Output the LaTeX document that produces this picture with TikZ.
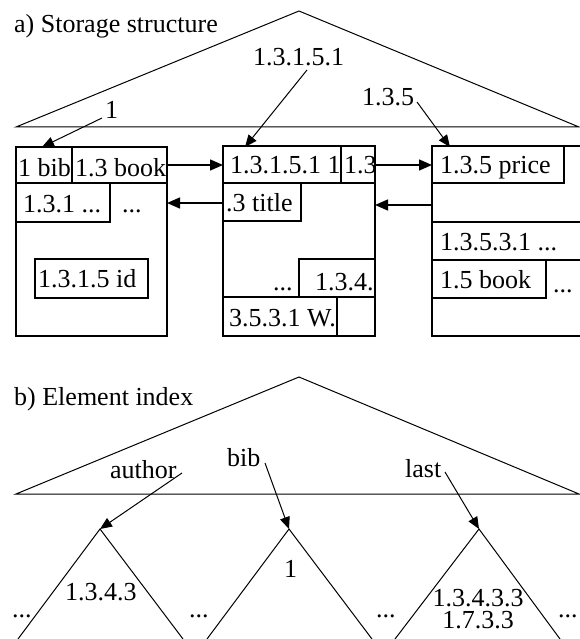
\documentclass[tikz,border=0pt]{standalone}
\usepackage{fontspec}
\setmainfont{Liberation Serif}
\usetikzlibrary{arrows.meta}
\begin{document}
\begin{tikzpicture}[x=1pt,y=-1pt,
  txt/.style={anchor=base west,inner sep=0pt,font=\fontsize{26}{28}\selectfont},
  tline/.style={line width=1pt},
  boxline/.style={line width=2pt},
  linkarr/.style={line width=1.4pt,-{Triangle[length=13pt,width=11pt]}},
  labarr/.style={line width=1pt,-{Triangle[length=12pt,width=10pt]}},
]
\useasboundingbox (0,0) rectangle (579,639);

% ---------- a) storage structure ----------
\node[txt] (ta) at (14,33) {a) Storage structure};
\coordinate (aL) at (16,127);
\coordinate (aT) at (299,11);
\coordinate (aR) at (579,127);
\draw[tline] (aL) -- (aT) -- (aR) -- cycle;

% block 1
\draw[boxline] (16,147) rectangle (167,336);
\draw[boxline] (16,183) -- (167,183);
\draw[boxline] (72,147) -- (72,183);
\draw[boxline] (16,183) rectangle (110,222);
\draw[boxline] (35,259) rectangle (148,298);
\node[txt] (b1a) at (18,176) {1 bib};
\node[txt] (b1b) at (75,176) {1.3 book};
\node[txt] (b1c) at (23,212) {1.3.1 ...};
\node[txt] (b1d) at (122,212) {...};
\node[txt] (b1e) at (38,287) {1.3.1.5 id};

% block 2
\draw[boxline] (223,146) rectangle (375,336);
\draw[boxline] (223,183) -- (375,183);
\draw[boxline] (341,146) -- (341,183);
\draw[boxline] (223,183) rectangle (301,221);
\draw[boxline] (299,259) rectangle (375,297);
\draw[boxline] (223,297) -- (375,297);
\draw[boxline] (337,297) -- (337,336);
\begin{scope}
\clip (224,147) rectangle (340,182);
\node[txt] (b2a) at (230,174) {1.3.1.5.1 1};
\end{scope}
\node[txt] (b2b) at (344,174) {1.3};
\begin{scope}
\clip (224,184) rectangle (300,220);
\node[txt] (b2c) at (226,211) {.3 title};
\end{scope}
\node[txt] (b2d) at (273,290) {...};
\begin{scope}
\clip (300,260) rectangle (374,296);
\node[txt] (b2e) at (315,290) {1.3.4.};
\end{scope}
\begin{scope}
\clip (224,298) rectangle (336,335);
\node[txt] (b2f) at (229,326) {3.5.3.1 W.};
\end{scope}

% block 3
\draw[boxline] (580,146) -- (432,146) -- (432,336) -- (580,336);
\draw[boxline] (432,146) rectangle (564,183);
\draw[boxline] (432,222) -- (580,222);
\draw[boxline] (432,260) -- (580,260);
\draw[boxline] (432,260) rectangle (546,298);
\node[txt] (b3a) at (440,173) {1.3.5 price};
\node[txt] (b3b) at (440,250) {1.3.5.3.1 ...};
\node[txt] (b3c) at (440,288) {1.5 book};
\node[txt] (b3d) at (553,292) {...};

% links between blocks
\coordinate (p1r) at (167,165);
\coordinate (p2l) at (223,165);
\coordinate (q2l) at (223,203);
\coordinate (q1r) at (167,203);
\coordinate (p2r) at (375,165);
\coordinate (p3l) at (432,165);
\coordinate (q3l) at (432,205);
\coordinate (q2r) at (375,205);
\draw[linkarr] (p1r) -- (p2l);
\draw[linkarr] (q2l) -- (q1r);
\draw[linkarr] (p2r) -- (p3l);
\draw[linkarr] (q3l) -- (q2r);

% labels with arrows
\node[txt] (la1) at (105,119) {1};
\node[txt] (la2) at (253,66) {1.3.1.5.1};
\node[txt] (la3) at (362,106) {1.3.5};
\coordinate (s1) at (102,118);
\coordinate (e1) at (42,147);
\coordinate (s2) at (307,70);
\coordinate (e2) at (245,147);
\coordinate (s3) at (417,102);
\coordinate (e3) at (450,147);
\draw[labarr] (s1) -- (e1);
\draw[labarr] (s2) -- (e2);
\draw[labarr] (s3) -- (e3);

% ---------- b) element index ----------
\node[txt] (tb) at (14,405) {b) Element index};
\coordinate (bL) at (16,494);
\coordinate (bT) at (299,377);
\coordinate (bR) at (579,494);
\draw[tline] (bL) -- (bT) -- (bR) -- cycle;

\node[txt] (lb1) at (110,478) {author};
\node[txt] (lb2) at (227,466) {bib};
\node[txt] (lb3) at (405,477) {last};

% sub-trees
\coordinate (t1) at (100,529);
\coordinate (t1l) at (18,639);
\coordinate (t1r) at (183,639);
\coordinate (t2) at (289,529);
\coordinate (t2l) at (207,639);
\coordinate (t2r) at (372,639);
\coordinate (t3) at (479,529);
\coordinate (t3l) at (395,639);
\coordinate (t3r) at (560,639);
\draw[tline] (t1l) -- (t1) -- (t1r);
\draw[tline] (t2l) -- (t2) -- (t2r);
\draw[tline] (t3l) -- (t3) -- (t3r);

\coordinate (u1) at (182,473);
\coordinate (u2) at (265,463);
\coordinate (u3) at (445,472);
\draw[labarr] (u1) -- (t1);
\draw[labarr] (u2) -- (t2);
\draw[labarr] (u3) -- (t3);

\node[txt] (x1) at (65,600) {1.3.4.3};
\node[txt] (x2) at (284,577) {1};
\node[anchor=north,inner sep=0pt,align=center,
      font=\fontsize{26}{22}\selectfont] (x3) at (478,589) {1.3.4.3.3\\1.7.3.3};
\node[txt] (d1) at (12,617) {...};
\node[txt] (d2) at (189,617) {...};
\node[txt] (d3) at (376,617) {...};
\node[txt] (d4) at (558,617) {...};
\end{tikzpicture}
\end{document}
